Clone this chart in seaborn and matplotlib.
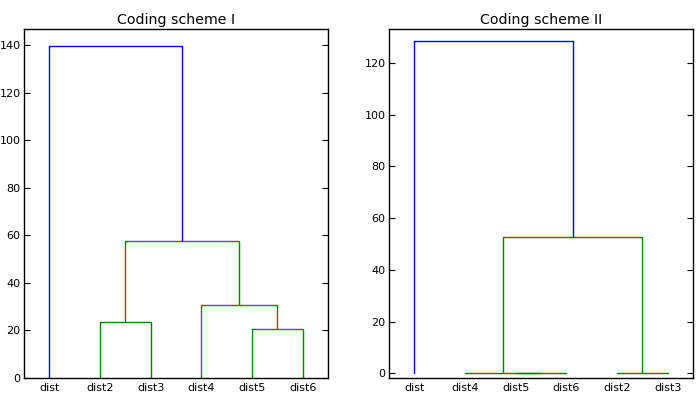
import matplotlib
matplotlib.use("Agg")
import matplotlib.pyplot as plt
import seaborn as sns
import pandas as pd

# ---- data ----
left_title = "Coding scheme I"
left_labels = ["dist", "dist2", "dist3", "dist4", "dist5", "dist6"]
# merges: (child a, child b, height); leaves 0..5 in display order, clusters 6..
left_merges = [(1, 2, 23.4), (4, 5, 20.6), (3, 7, 30.6), (6, 8, 57.4), (0, 9, 139.8)]
left_ylim = (0, 147)
left_yticks = [0, 20, 40, 60, 80, 100, 120, 140]

right_title = "Coding scheme II"
right_labels = ["dist", "dist4", "dist5", "dist6", "dist2", "dist3"]
right_merges = [(2, 3, 0.0), (1, 6, 0.0), (4, 5, 0.0), (7, 8, 52.6), (0, 9, 128.5)]
right_ylim = (-1.7, 133.3)
right_yticks = [0, 20, 40, 60, 80, 100, 120]

sns.set_style("white")
plt.rcParams["font.family"] = ["DejaVu Sans"]
plt.rcParams["text.color"] = "black"
plt.rcParams["xtick.color"] = "black"
plt.rcParams["ytick.color"] = "black"
plt.rcParams["axes.labelcolor"] = "black"


def dendro_frame(labels, merges):
    n = len(labels)
    pos = {i: 5 + 10 * i for i in range(n)}
    hgt = {i: 0.0 for i in range(n)}
    thr = 0.7 * max(m[2] for m in merges)
    rows = []
    for k, (a, b, h) in enumerate(merges):
        col = "b" if h > thr else "g"
        pts = [(pos[a], hgt[a]), (pos[a], h), (pos[b], h), (pos[b], hgt[b])]
        for j, (x, y) in enumerate(pts):
            rows.append(dict(x=x, y=y, link=k, order=j, color=col))
        pos[n + k] = (pos[a] + pos[b]) / 2
        hgt[n + k] = h
    return pd.DataFrame(rows)


fig = plt.figure(figsize=(6.98, 4.08), dpi=100)
ax1 = fig.add_axes([24 / 698, 1 - 377.7 / 408, 304 / 698, (377.7 - 28.7) / 408])
ax2 = fig.add_axes([389 / 698, 1 - 377.7 / 408, 304 / 698, (377.7 - 28.7) / 408])

for ax, title, labels, merges, ylim, yticks in [
    (ax1, left_title, left_labels, left_merges, left_ylim, left_yticks),
    (ax2, right_title, right_labels, right_merges, right_ylim, right_yticks),
]:
    df = dendro_frame(labels, merges)
    sns.lineplot(data=df, x="x", y="y", units="link", estimator=None, sort=False,
                 hue="color", palette={"b": "#0000ff", "g": "#008000"},
                 legend=False, linewidth=1.0, ax=ax)
    ax.set_xlim(0, 10 * len(labels))
    ax.set_ylim(*ylim)
    ax.set_xticks([5 + 10 * i for i in range(len(labels))])
    ax.set_xticklabels(labels, fontsize=8, color="black")
    ax.set_yticks(yticks)
    ax.set_yticklabels([str(t) for t in yticks], fontsize=8, color="black")
    ax.tick_params(axis="x", length=0, pad=4)
    ax.tick_params(axis="y", direction="in", left=True, right=True, length=4,
                   width=0.8, pad=2.5, color="black")
    ax.set_xlabel("")
    ax.set_ylabel("")
    ax.set_title(title, fontsize=10.2, pad=3.5, color="black")
    for s in ax.spines.values():
        s.set_visible(True)
        s.set_color("black")
        s.set_linewidth(1.0)

fig.savefig("out.png", dpi=100)
